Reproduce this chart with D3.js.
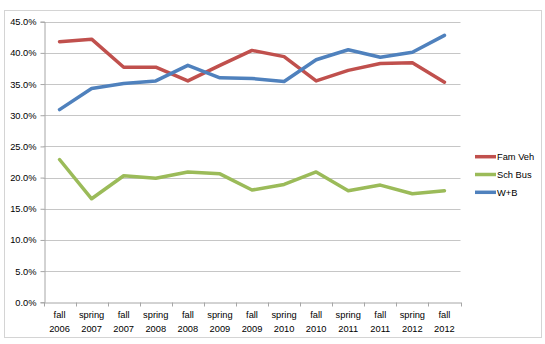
<!DOCTYPE html>
<html><head><meta charset="utf-8">
<script src="https://cdn.jsdelivr.net/npm/d3@7"></script>
<style>body{margin:0;background:#fff}svg{display:block}</style>
</head><body><svg id="c" width="545" height="344"></svg>
<script>
const terms = ["fall","spring","fall","spring","fall","spring","fall","spring","fall","spring","fall","spring","fall"];
const years = ["2006","2007","2007","2008","2008","2009","2009","2010","2010","2011","2011","2012","2012"];
const categories = terms.map((t,i)=>t+" "+years[i]);
const famVeh = [41.8,42.2,37.7,37.7,35.5,38.0,40.4,39.4,35.5,37.2,38.3,38.4,35.3];
const schBus = [22.9,16.6,20.3,19.9,20.9,20.6,18.0,18.9,20.9,17.9,18.8,17.4,17.9];
const wb = [30.9,34.3,35.1,35.5,38.0,36.0,35.9,35.4,38.9,40.5,39.3,40.1,42.8];
const yTicks = [0,5,10,15,20,25,30,35,40,45];
const seriesNames = ["Fam Veh","Sch Bus","W+B"];
const seriesData = [famVeh, schBus, wb];
const colors = ["#C0504D","#9BBB59","#4F81BD"];

const svg = d3.select("#c");
svg.append("rect").attr("x",4.5).attr("y",10.5).attr("width",537).attr("height",327)
  .attr("fill","#fff").attr("stroke","#d4d4d4");

const L=43.5, R=460.5, T=21.7, B=302.3;
const x = d3.scaleBand().domain(categories).range([L,R]);
const y = d3.scaleLinear().domain([0,45]).range([B,T]);
const font = "'Liberation Sans', Arial, sans-serif";

// gridlines
svg.append("g").selectAll("line").data(yTicks.filter(d=>d>0)).join("line")
  .attr("x1",L).attr("x2",R).attr("y1",d=>Math.round(y(d))+0.5).attr("y2",d=>Math.round(y(d))+0.5)
  .attr("stroke","#c6c6c6").attr("stroke-width",1);

// y axis
const yAx = svg.append("g").attr("transform",`translate(${Math.round(L)+0.5},0)`)
  .call(d3.axisLeft(y).tickValues(yTicks).tickFormat(d=>d.toFixed(1)+"%").tickSize(4).tickPadding(4));
yAx.select(".domain").attr("stroke","#a6a6a6");
yAx.selectAll(".tick line").attr("stroke","#a6a6a6");
yAx.selectAll("text").attr("font-family",font).attr("font-size","9.3px").attr("fill","#000");

// x axis
const xAx = svg.append("g").attr("transform",`translate(0,${Math.round(B)+0.5})`)
  .call(d3.axisBottom(x).tickSize(0).tickFormat(""));
xAx.select(".domain").attr("stroke","#a6a6a6");
xAx.selectAll(".tick").remove();
const bounds = d3.range(categories.length+1).map(i=>L+i*x.step());
svg.append("g").selectAll("line").data(bounds).join("line")
  .attr("x1",d=>Math.round(d)+0.5).attr("x2",d=>Math.round(d)+0.5)
  .attr("y1",Math.round(B)+0.5).attr("y2",Math.round(B)+4.5).attr("stroke","#a6a6a6");
const lab = svg.append("g").selectAll("text").data(categories).join("text")
  .attr("x",d=>x(d)+x.bandwidth()/2).attr("text-anchor","middle")
  .attr("font-family",font).attr("font-size","9.3px").attr("fill","#000");
lab.append("tspan").attr("x",d=>x(d)+x.bandwidth()/2).attr("y",317.5).text((d,i)=>terms[i]);
lab.append("tspan").attr("x",d=>x(d)+x.bandwidth()/2).attr("y",331.5).text((d,i)=>years[i]);

// lines
const line = d3.line().x((d,i)=>x(categories[i])+x.bandwidth()/2).y(d=>y(d));
svg.append("g").selectAll("path").data(seriesData).join("path")
  .attr("d",line).attr("fill","none").attr("stroke",(d,i)=>colors[i])
  .attr("stroke-width",3.5).attr("stroke-linejoin","round").attr("stroke-linecap","round");

// legend
const lg = svg.append("g").selectAll("g").data(seriesNames).join("g")
  .attr("transform",(d,i)=>`translate(475,${156.7+i*17.8})`);
lg.append("line").attr("x1",0).attr("x2",21).attr("stroke",(d,i)=>colors[i]).attr("stroke-width",3.5);
lg.append("text").attr("x",22).attr("y",3.3).text(d=>d)
  .attr("font-family",font).attr("font-size","9.3px").attr("fill","#000");
</script></body></html>
